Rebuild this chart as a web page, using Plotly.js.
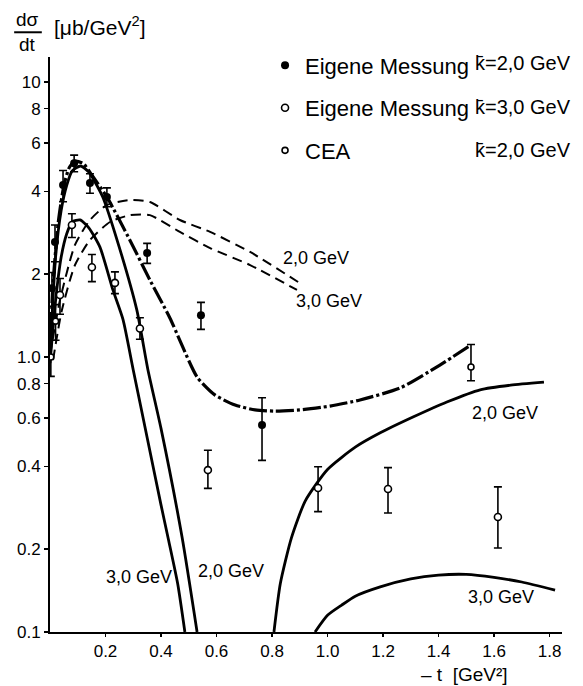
<!DOCTYPE html>
<html>
<head>
<meta charset="utf-8">
<script src="https://cdn.plot.ly/plotly-3.0.1.min.js"></script>
<style>html,body{margin:0;padding:0;background:#fff;}#chart{width:583px;height:686px;}</style>
</head>
<body>
<div id="chart"></div>
<script>
// ---- data: measurements ----
const ownK2_t   = [0.007, 0.018, 0.047, 0.087, 0.144, 0.205, 0.35, 0.544, 0.764];
const ownK2_y   = [1.78, 2.62, 4.22, 5.07, 4.29, 3.82, 2.39, 1.42, 0.566];
const ownK2_err = [0.25, 0.4, 0.55, 0.35, 0.35, 0.3, 0.2, 0.16, 0.145];

const ownK3_t   = [0.036, 0.079, 0.151, 0.234, 0.324, 0.569, 0.966, 1.218, 1.614];
const ownK3_y   = [1.68, 3.02, 2.12, 1.86, 1.27, 0.388, 0.334, 0.331, 0.262];
const ownK3_errP = [0.25, 0.3, 0.24, 0.18, 0.12, 0.07, 0.065, 0.065, 0.075];
const ownK3_errM = [0.25, 0.3, 0.24, 0.16, 0.11, 0.055, 0.06, 0.06, 0.06];

const cea_t    = [0.003, 0.02, 1.517];
const cea_y    = [1.0, 1.35, 0.92];
const cea_errP = [0.15, 0.2, 0.19];
const cea_errM = [0.15, 0.2, 0.1];

// ---- data: model curves ----
const fitK2_t = [0, 0.01, 0.03, 0.05, 0.07, 0.09, 0.12, 0.15, 0.205, 0.288, 0.36, 0.432, 0.53, 0.595, 0.667, 0.739, 0.811, 0.901, 1.009, 1.117, 1.261, 1.405, 1.517];
const fitK2_y = [1.0, 1.8, 3.1, 4.2, 4.9, 5.15, 5.05, 4.6, 3.82, 2.66, 1.905, 1.387, 0.846, 0.727, 0.669, 0.642, 0.636, 0.642, 0.663, 0.698, 0.771, 0.935, 1.106];

const solK2a_t = [0, 0.02, 0.04, 0.06, 0.08, 0.11, 0.14, 0.19, 0.25, 0.313, 0.353, 0.4, 0.476, 0.53];
const solK2a_y = [1.0, 2.3, 3.4, 4.2, 4.75, 4.95, 4.7, 3.82, 2.5, 1.48, 0.897, 0.55, 0.221, 0.1];
const solK2b_t = [0.807, 0.83, 0.87, 0.92, 1.0, 1.1, 1.19, 1.31, 1.43, 1.55, 1.66, 1.78];
const solK2b_y = [0.1, 0.15, 0.22, 0.3, 0.39, 0.47, 0.53, 0.606, 0.686, 0.76, 0.79, 0.81];

const solK3a_t = [0, 0.02, 0.04, 0.06, 0.08, 0.108, 0.14, 0.18, 0.227, 0.263, 0.3, 0.35, 0.4, 0.425, 0.46, 0.486];
const solK3a_y = [0.95, 1.6, 2.3, 2.8, 3.1, 3.15, 2.95, 2.51, 1.75, 1.37, 0.897, 0.51, 0.29, 0.221, 0.15, 0.1];
const solK3b_t = [0.955, 1.0, 1.05, 1.1, 1.19, 1.3, 1.4, 1.5, 1.6, 1.7, 1.82];
const solK3b_y = [0.1, 0.115, 0.125, 0.135, 0.146, 0.156, 0.161, 0.162, 0.158, 0.152, 0.142];

const dashK2_t = [0, 0.036, 0.09, 0.144, 0.205, 0.288, 0.36, 0.468, 0.577, 0.721, 0.894];
const dashK2_y = [1.017, 1.612, 2.556, 3.148, 3.57, 3.72, 3.66, 3.15, 2.85, 2.41, 1.874];
const dashK3_t = [0.011, 0.043, 0.09, 0.144, 0.216, 0.288, 0.36, 0.468, 0.577, 0.721, 0.89];
const dashK3_y = [0.975, 1.483, 2.161, 2.663, 3.097, 3.28, 3.28, 2.85, 2.49, 2.16, 1.753];

// ---- axis ticks ----
const yTickVals = [0.1, 0.2, 0.4, 0.6, 0.8, 1, 2, 4, 6, 8, 10];
const yTickText = ["0.1", "0.2", "0.4", "0.6", "0.8", "1.0", "2", "4", "6", "8", "10"];
const xTickVals = [0.2, 0.4, 0.6, 0.8, 1.0, 1.2, 1.4, 1.6, 1.8];
const xTickText = ["0.2", "0.4", "0.6", "0.8", "1.0", "1.2", "1.4", "1.6", "1.8"];

const F = "Liberation Sans, Arial, sans-serif";

function curve(t, y, dash, w) {
  return {x: t, y: y, mode: 'lines', type: 'scatter', showlegend: false, hoverinfo: 'skip',
          line: {color: '#000', width: w, dash: dash, shape: 'spline', smoothing: 0.6}};
}

const traces = [
  curve(dashK2_t, dashK2_y, '10px,6px', 2),
  curve(dashK3_t, dashK3_y, '10px,6px', 2),
  curve(solK3a_t, solK3a_y, 'solid', 2.8),
  curve(solK3b_t, solK3b_y, 'solid', 2.8),
  curve(solK2a_t, solK2a_y, 'solid', 2.8),
  curve(solK2b_t, solK2b_y, 'solid', 2.8),
  curve(fitK2_t, fitK2_y, '18px,3px,3px,3px', 3.2),
  {x: ownK2_t, y: ownK2_y, type: 'scatter', mode: 'markers', name: 'Eigene Messung',
   legendgroup: 'a',
   marker: {color: '#000', size: 8, symbol: 'circle'},
   error_y: {type: 'data', array: ownK2_err, color: '#000', thickness: 1.6, width: 4}},
  {x: ownK3_t, y: ownK3_y, type: 'scatter', mode: 'markers', name: 'Eigene Messung',
   legendgroup: 'b',
   marker: {color: '#fff', size: 7, symbol: 'circle', line: {color: '#000', width: 1.6}},
   error_y: {type: 'data', symmetric: false, array: ownK3_errP, arrayminus: ownK3_errM, color: '#000', thickness: 1.6, width: 4}},
  {x: cea_t, y: cea_y, type: 'scatter', mode: 'markers', name: 'CEA',
   legendgroup: 'c',
   marker: {color: '#fff', size: 6, symbol: 'circle', line: {color: '#000', width: 1.6}},
   error_y: {type: 'data', symmetric: false, array: cea_errP, arrayminus: cea_errM, color: '#000', thickness: 1.6, width: 4}}
];

function lab(text, x, y, size, extra) {
  return Object.assign({text: text, x: x, y: y, xref: 'paper', yref: 'paper', showarrow: false,
    xanchor: 'center', yanchor: 'middle', font: {family: F, size: size, color: '#000'}}, extra || {});
}

const layout = {
  width: 583, height: 686,
  margin: {l: 50, r: 21, t: 57, b: 54},
  paper_bgcolor: '#fff', plot_bgcolor: '#fff',
  font: {family: F, color: '#000'},
  xaxis: {range: [0, 1.845], showgrid: false, zeroline: false, showline: true, linecolor: '#000', linewidth: 2,
          tickvals: xTickVals, ticktext: xTickText, ticks: 'outside', ticklen: 3, tickwidth: 1.5, tickcolor: '#000',
          tickfont: {family: F, size: 17, color: '#000'}},
  yaxis: {type: 'log', range: [-1, 1.091], showgrid: false, zeroline: false, showline: true, linecolor: '#000', linewidth: 2,
          tickvals: yTickVals, ticktext: yTickText, ticks: 'outside', ticklen: 4, tickwidth: 1.5, tickcolor: '#000',
          tickfont: {family: F, size: 17, color: '#000'}},
  showlegend: true,
  legend: {x: 0.42, y: 1.022, xanchor: 'left', yanchor: 'top', bgcolor: 'rgba(0,0,0,0)',
           font: {family: F, size: 22, color: '#000'}, tracegroupgap: 11, itemwidth: 30},
  annotations: [
    lab('k\u0304=2,0 GeV', 1.022, 0.99, 20, {xanchor: 'right'}),
    lab('k\u0304=3,0 GeV', 1.022, 0.913, 20, {xanchor: 'right'}),
    lab('k\u0304=2,0 GeV', 1.022, 0.838, 20, {xanchor: 'right'}),
    lab('2,0 GeV', 0.520, 0.650, 18),
    lab('3,0 GeV', 0.545, 0.576, 18),
    lab('2,0 GeV', 0.889, 0.381, 18),
    lab('3,0 GeV', 0.881, 0.061, 18),
    lab('3,0 GeV', 0.174, 0.0957, 18),
    lab('2,0 GeV', 0.354, 0.106, 18),
    lab('dσ', -0.044, 1.066, 19),
    lab('dt', -0.044, 1.021, 19),
    lab('[μb/GeV<sup>2</sup>]', 0.096, 1.054, 21),
    lab('– t  [GeV²]', 0.81, -0.074, 19)
  ],
  shapes: [
    {type: 'line', xref: 'paper', yref: 'paper', x0: -0.07, x1: -0.016, y0: 1.043, y1: 1.043,
     line: {color: '#000', width: 2}}
  ]
};

Plotly.newPlot('chart', traces, layout, {displayModeBar: false, staticPlot: true});
</script>
</body>
</html>
